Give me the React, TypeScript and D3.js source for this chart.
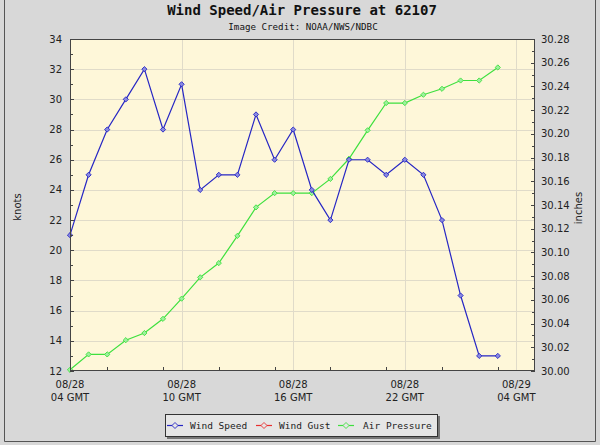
import React from "react";
import * as d3 from "d3";

const times: string[] = [
  "2010-08-28T04:00Z", "2010-08-28T05:00Z", "2010-08-28T06:00Z", "2010-08-28T07:00Z",
  "2010-08-28T08:00Z", "2010-08-28T09:00Z", "2010-08-28T10:00Z", "2010-08-28T11:00Z",
  "2010-08-28T12:00Z", "2010-08-28T13:00Z", "2010-08-28T14:00Z", "2010-08-28T15:00Z",
  "2010-08-28T16:00Z", "2010-08-28T17:00Z", "2010-08-28T18:00Z", "2010-08-28T19:00Z",
  "2010-08-28T20:00Z", "2010-08-28T21:00Z", "2010-08-28T22:00Z", "2010-08-28T23:00Z",
  "2010-08-29T00:00Z", "2010-08-29T01:00Z", "2010-08-29T02:00Z", "2010-08-29T03:00Z",
];
const windSpeed: number[] = [21, 25, 28, 30, 32, 28, 31, 24, 25, 25, 29, 26, 28, 24, 22, 26, 26, 25, 26, 25, 22, 17, 13, 13];
const airPressure: number[] = [
  30.001, 30.014, 30.014, 30.026, 30.032, 30.044, 30.061, 30.079, 30.091, 30.114, 30.138, 30.15,
  30.15, 30.15, 30.162, 30.179, 30.203, 30.226, 30.226, 30.233, 30.238, 30.245, 30.245, 30.256,
];
const xDomain: string[] = ["2010-08-28T04:00Z", "2010-08-29T05:00Z"];
const xTickLabels: [string, string, string][] = [
  ["2010-08-28T04:00Z", "08/28", "04 GMT"],
  ["2010-08-28T10:00Z", "08/28", "10 GMT"],
  ["2010-08-28T16:00Z", "08/28", "16 GMT"],
  ["2010-08-28T22:00Z", "08/28", "22 GMT"],
  ["2010-08-29T04:00Z", "08/29", "04 GMT"],
];
const knotsDomain: number[] = [12, 34];
const inchesDomain: number[] = [30.0, 30.28];
const legendItems: [string, string][] = [
  ["Wind Speed", "#2626c4"],
  ["Wind Gust", "#e83030"],
  ["Air Pressure", "#3ee03e"],
];

const L = 70, R = 535, T = 39, B = 371;
const MONO = "'DejaVu Sans Mono', monospace";
const SANS = "'DejaVu Sans', Verdana, sans-serif";

export default function App() {
  const x = d3.scaleUtc().domain(xDomain.map((s) => new Date(s))).range([L, R]);
  const yL = d3.scaleLinear().domain(knotsDomain).range([B, T]);
  const yR = d3.scaleLinear().domain(inchesDomain).range([B, T]);
  const dates = times.map((s) => new Date(s));

  const windLine = d3.line<number>().x((_, i) => x(dates[i])).y((d) => yL(d))(windSpeed) || "";
  const presLine = d3.line<number>().x((_, i) => x(dates[i])).y((d) => yR(d))(airPressure) || "";

  const leftTicks = d3.range(knotsDomain[0], knotsDomain[1] + 0.001, 1);
  const rightTicks = d3.range(0, 29, 1).map((k) => +(inchesDomain[0] + k * 0.01).toFixed(2));
  const xTicks = d3.utcHour.every(3)!.range(new Date(xDomain[0]), new Date(xDomain[1]));

  const diamond = (cx: number, cy: number, r = 2.6) =>
    `M${cx},${cy - r}L${cx + r},${cy}L${cx},${cy + r}L${cx - r},${cy}Z`;

  const windColor = legendItems[0][1];
  const presColor = legendItems[2][1];

  return (
    <svg width={600} height={445} style={{ position: "absolute", left: 0, top: 0 }}>
      <rect x={0} y={0} width={600} height={445} fill="#d8d8d8" />
      {/* outer frame */}
      <line x1={4.5} y1={0} x2={4.5} y2={441.5} stroke="#555" />
      <line x1={4.5} y1={441.5} x2={595.5} y2={441.5} stroke="#555" />
      <line x1={595.5} y1={0} x2={595.5} y2={441.5} stroke="#555" />

      <text x={302} y={15} textAnchor="middle" fontFamily={MONO} fontWeight="bold" fontSize={14} fill="#111">
        Wind Speed/Air Pressure at 62107
      </text>
      <text x={303} y={30} textAnchor="middle" fontFamily={MONO} fontSize={9.2} fill="#111">
        Image Credit: NOAA/NWS/NDBC
      </text>

      {/* plot background */}
      <rect x={L} y={T} width={R - L} height={B - T} fill="#fef7d9" />
      {/* horizontal grid */}
      {leftTicks.filter((v) => v % 2 === 0 && v > knotsDomain[0] && v < knotsDomain[1]).map((v) => (
        <line key={"hg" + v} x1={L} x2={R} y1={Math.round(yL(v)) + 0.5} y2={Math.round(yL(v)) + 0.5} stroke="#e0dbc9" />
      ))}
      {/* vertical grid */}
      {xTickLabels.slice(1).map((t) => (
        <line key={"vg" + t[0]} x1={Math.round(x(new Date(t[0]))) + 0.5} x2={Math.round(x(new Date(t[0]))) + 0.5} y1={T} y2={B} stroke="#e0dbc9" />
      ))}

      {/* series */}
      <path d={presLine} fill="none" stroke={presColor} strokeWidth={1.2} />
      {airPressure.map((v, i) => (
        <path key={"pm" + i} d={diamond(x(dates[i]), yR(v))} fill="#9ef09e" stroke={presColor} strokeWidth={0.9} />
      ))}
      <path d={windLine} fill="none" stroke={windColor} strokeWidth={1.2} />
      {windSpeed.map((v, i) => (
        <path key={"wm" + i} d={diamond(x(dates[i]), yL(v))} fill="#8a8ae0" stroke={windColor} strokeWidth={0.9} />
      ))}

      {/* frame */}
      <rect x={L + 0.5} y={T + 0.5} width={R - L - 1} height={B - T - 1} fill="none" stroke="#444" />

      {/* left ticks */}
      {leftTicks.map((v) => (
        <line key={"lt" + v} x1={L} x2={L + (v % 2 === 0 ? 4 : 3)} y1={Math.round(yL(v)) + 0.5} y2={Math.round(yL(v)) + 0.5} stroke="#444" />
      ))}
      {leftTicks.filter((v) => v % 2 === 0).map((v) => (
        <text key={"ll" + v} x={62} y={yL(v) + 3.5} textAnchor="end" fontFamily={SANS} fontSize={10} fill="#222">
          {v}
        </text>
      ))}
      {/* right ticks */}
      {rightTicks.map((v, k) => (
        <line key={"rt" + k} x1={R} x2={R - (k % 2 === 0 ? 4 : 3)} y1={Math.round(yR(v)) + 0.5} y2={Math.round(yR(v)) + 0.5} stroke="#444" />
      ))}
      {rightTicks.filter((_, k) => k % 2 === 0).map((v) => (
        <text key={"rl" + v} x={541} y={yR(v) + 3.5} fontFamily={SANS} fontSize={10} fill="#222">
          {v.toFixed(2)}
        </text>
      ))}
      {/* bottom ticks */}
      {xTicks.map((d) => (
        <line key={"bt" + d.getTime()} x1={Math.round(x(d)) + 0.5} x2={Math.round(x(d)) + 0.5} y1={B} y2={B - 4} stroke="#444" />
      ))}
      {xTickLabels.map((t) => (
        <text key={"bl" + t[0]} x={x(new Date(t[0]))} y={388} textAnchor="middle" fontFamily={SANS} fontSize={10} fill="#222">
          <tspan x={x(new Date(t[0]))} dy={0}>{t[1]}</tspan>
          <tspan x={x(new Date(t[0]))} dy={13}>{t[2]}</tspan>
        </text>
      ))}

      {/* axis titles */}
      <text transform="translate(21,207) rotate(-90)" textAnchor="middle" fontFamily={SANS} fontSize={10} fill="#222">
        knots
      </text>
      <text transform="translate(582,208) rotate(-90)" textAnchor="middle" fontFamily={SANS} fontSize={10} fill="#222">
        inches
      </text>

      {/* legend */}
      <rect x={167} y={416} width={273} height={23} fill="#777" />
      <rect x={165.5} y={414.5} width={272} height={22} fill="#e6e6e6" stroke="#333" />
      {legendItems.map(([name, color], i) => {
        const lx = [167, 256, 338][i];
        const tx = [190, 279, 363][i];
        const cy = 425.5;
        return (
          <g key={name}>
            <line x1={lx} x2={lx + 16} y1={cy} y2={cy} stroke={color} strokeWidth={1.2} />
            <path d={diamond(lx + 8, cy, 3)} fill="#e6e6e6" stroke={color} strokeWidth={0.9} />
            <text x={tx} y={429} fontFamily={MONO} fontSize={9.5} fill="#222">
              {name}
            </text>
          </g>
        );
      })}
    </svg>
  );
}
